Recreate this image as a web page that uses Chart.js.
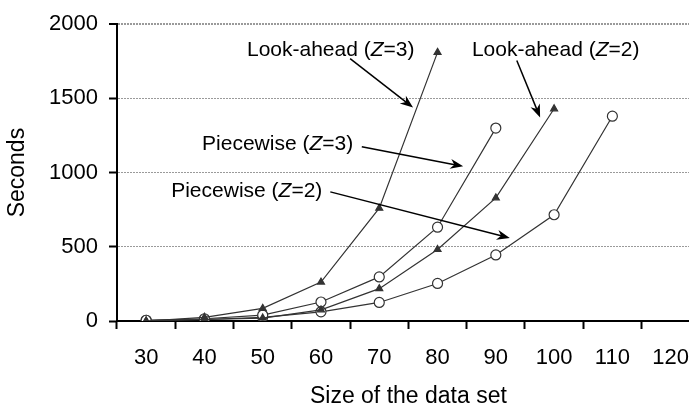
<!DOCTYPE html>
<html>
<head>
<meta charset="utf-8">
<script src="https://cdn.jsdelivr.net/npm/chart.js@4/dist/chart.umd.min.js"></script>
<style>
  html, body { margin: 0; padding: 0; background: #fff; overflow: hidden; }
  /* iets breder dan het venster: de x-as loopt door tot voorbij de rand */
  #wrap { width: 706px; height: 408px; }
</style>
</head>
<body>
<div id="wrap"><canvas id="chart"></canvas></div>
<script>
// categorieen (grootte van de data set)
const sizes = ['30', '40', '50', '60', '70', '80', '90', '100', '110', '120'];

// seconden per methode
const lookAheadZ3 = [0, 25, 85, 262, 760, 1810];
const lookAheadZ2 = [0, 10, 20, 75, 218, 482, 830, 1430];
const piecewiseZ3 = [5, 15, 40, 128, 297, 632, 1300];
const piecewiseZ2 = [5, 10, 25, 62, 125, 253, 445, 716, 1380];

// y-as ticks
const yTicks = [0, 500, 1000, 1500, 2000];

// labels met pijlen: tekst, plek van tekst (index, waarde), pijl van -> naar
const notes = [
  { parts: ['Look-ahead (', 'Z', '=3)'], at: [1.73, 1822], from: [3.50, 1768], to: [4.58, 1438] },
  { parts: ['Look-ahead (', 'Z', '=2)'], at: [5.59, 1822], from: [6.36, 1755], to: [6.76, 1372] },
  { parts: ['Piecewise (', 'Z', '=3)'], at: [0.96, 1193], from: [3.70, 1174], to: [5.44, 1042] },
  { parts: ['Piecewise (', 'Z', '=2)'], at: [0.43, 877], from: [3.16, 870], to: [6.24, 559] }
];

const fontFam = '"Liberation Sans", Arial, sans-serif';

// plugin die de tekst en pijlen tekent
const notePlugin = {
  id: 'notes',
  afterDatasetsDraw(chart) {
    const c = chart.ctx;
    const xs = chart.scales.x;
    const ys = chart.scales.y;
    c.save();
    c.fillStyle = '#000';
    c.strokeStyle = '#000';
    c.textBaseline = 'middle';
    notes.forEach(n => {
      let x = xs.getPixelForValue(n.at[0]);
      const y = ys.getPixelForValue(n.at[1]);
      n.parts.forEach((p, i) => {
        c.font = (i === 1 ? 'italic ' : '') + '21px ' + fontFam;
        c.fillText(p, x, y);
        x += c.measureText(p).width;
      });
      const x1 = xs.getPixelForValue(n.from[0]);
      const y1 = ys.getPixelForValue(n.from[1]);
      const x2 = xs.getPixelForValue(n.to[0]);
      const y2 = ys.getPixelForValue(n.to[1]);
      const a = Math.atan2(y2 - y1, x2 - x1);
      const len = 13, w = 5;
      c.lineWidth = 1.5;
      c.beginPath();
      c.moveTo(x1, y1);
      c.lineTo(x2 - Math.cos(a) * 6, y2 - Math.sin(a) * 6);
      c.stroke();
      c.beginPath();
      c.moveTo(x2, y2);
      c.lineTo(x2 - Math.cos(a) * len - Math.sin(a) * w, y2 - Math.sin(a) * len + Math.cos(a) * w);
      c.lineTo(x2 - Math.cos(a) * (len - 4), y2 - Math.sin(a) * (len - 4));
      c.lineTo(x2 - Math.cos(a) * len + Math.sin(a) * w, y2 - Math.sin(a) * len - Math.cos(a) * w);
      c.closePath();
      c.fill();
    });
    c.restore();
  }
};

function lineSet(label, data, style) {
  const tri = style === 'triangle';
  return {
    label: label,
    data: data,
    borderColor: '#333',
    borderWidth: 1.2,
    pointStyle: style,
    pointRadius: tri ? 4 : 5,
    pointBackgroundColor: tri ? '#333' : '#fff',
    pointBorderColor: '#333',
    pointBorderWidth: 1.2,
    fill: false,
    tension: 0
  };
}

new Chart(document.getElementById('chart'), {
  type: 'line',
  data: {
    labels: sizes,
    datasets: [
      lineSet('Look-ahead (Z=3)', lookAheadZ3, 'triangle'),
      lineSet('Look-ahead (Z=2)', lookAheadZ2, 'triangle'),
      lineSet('Piecewise (Z=3)', piecewiseZ3, 'circle'),
      lineSet('Piecewise (Z=2)', piecewiseZ2, 'circle')
    ]
  },
  options: {
    responsive: true,
    maintainAspectRatio: false,
    animation: false,
    layout: { padding: { top: 22, right: 0, bottom: 0, left: 0 } },
    plugins: {
      legend: { display: false },
      tooltip: { enabled: false }
    },
    scales: {
      x: {
        type: 'category',
        offset: true,
        afterFit: s => { s.height = 87; s.paddingLeft = 0; s.paddingRight = 0; },
        grid: {
          offset: true,
          drawOnChartArea: false,
          drawTicks: true,
          tickLength: 8,
          tickColor: '#000',
          tickWidth: 2
        },
        border: { color: '#000', width: 2 },
        ticks: { color: '#000', padding: 16, font: { family: fontFam, size: 22 }, maxRotation: 0, autoSkip: false },
        title: {
          display: true,
          text: 'Size of the data set',
          color: '#000',
          font: { family: fontFam, size: 23 },
          padding: { top: 0, bottom: -2 }
        }
      },
      y: {
        min: 0,
        max: 2000,
        afterFit: s => { s.width = 117; },
        afterBuildTicks: s => { s.ticks = yTicks.map(v => ({ value: v })); },
        grid: {
          color: '#9a9a9a',
          lineWidth: ctx => (ctx.tick && ctx.tick.value === 2000 ? 2 : 1),
          tickLength: 8,
          tickColor: '#000',
          tickWidth: 2,
          tickBorderDash: []
        },
        border: { color: '#000', width: 2, dash: [2, 1] },
        ticks: {
          color: '#000',
          padding: 11,
          font: { family: fontFam, size: 22 },
          callback: v => String(v)
        },
        title: {
          display: true,
          text: 'Seconds',
          color: '#000',
          font: { family: fontFam, size: 23 },
          padding: { top: 4, bottom: 0 }
        }
      }
    }
  },
  plugins: [notePlugin]
});
</script>
</body>
</html>
